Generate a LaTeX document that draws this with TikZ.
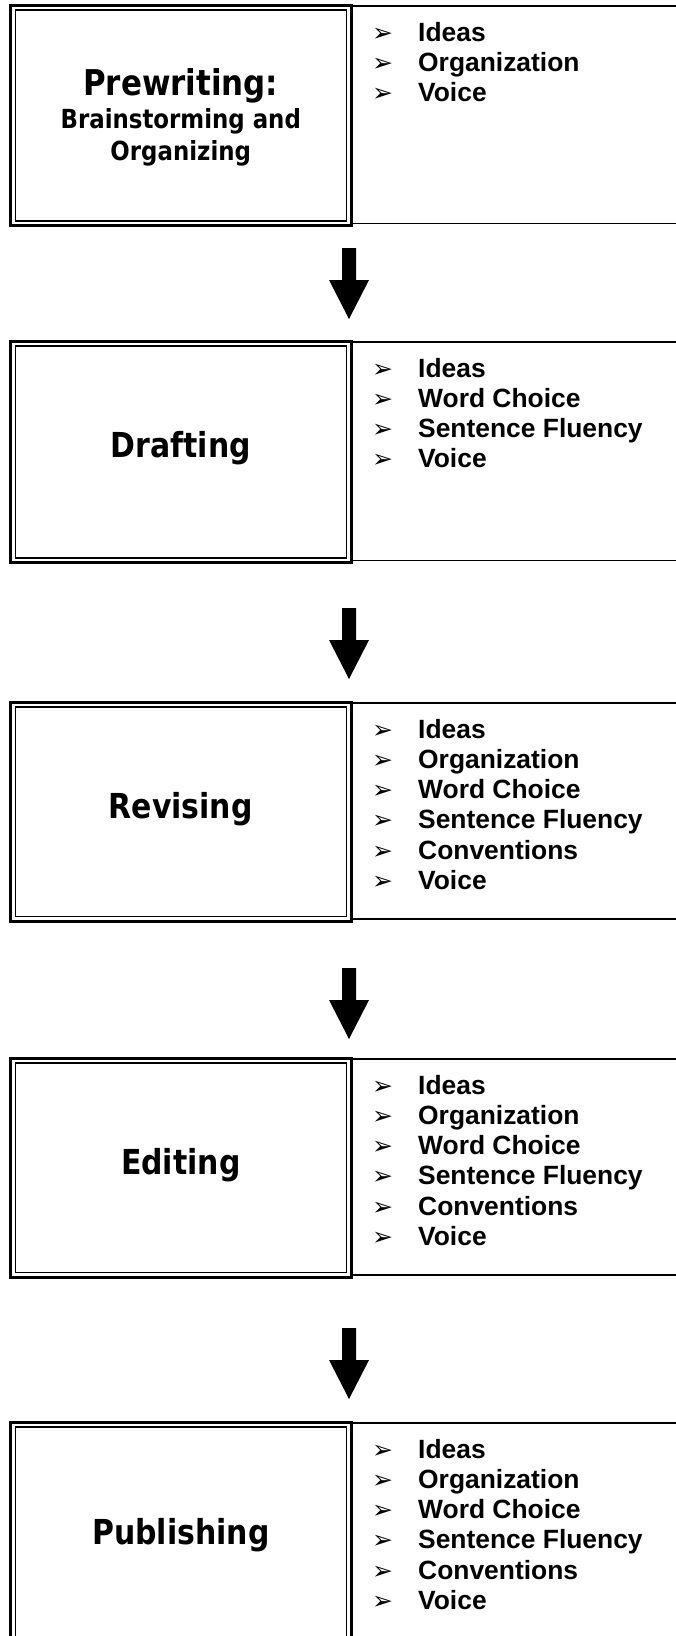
\documentclass[tikz,border=0pt]{standalone}
\usepackage{fontspec}
\setmainfont{Liberation Sans}
\newfontfamily\titlefont[FakeStretch=0.87]{DejaVu Sans}
\newfontfamily\dingfont{DejaVu Sans}
\tikzset{
  outerbox/.style={draw, line width=3pt, inner sep=0pt, outer sep=0pt, minimum width=340.5pt},
  innerbox/.style={draw, line width=1.5pt, inner sep=0pt, outer sep=0pt, minimum width=331pt},
  rline/.style={line width=1.3pt},
  titletext/.style={font=\titlefont\bfseries\fontsize{34.4}{40}\selectfont, inner sep=0pt, anchor=base},
  subtext/.style={font=\titlefont\bfseries\fontsize{26.3}{30}\selectfont, inner sep=0pt, anchor=base},
  itemtext/.style={font=\bfseries\fontsize{26.4}{30}\selectfont, inner sep=0pt, anchor=base west},
  bullettext/.style={font=\dingfont\fontsize{25}{25}\selectfont, inner sep=0pt, anchor=base west},
}
% #1 name, #2 top, #3 bottom, #4 height
\newcommand\wbox[4]{%
  \node[outerbox, minimum height=#4pt] (#1) at (180.75, {(#2+#3)/2}) {};
  \node[innerbox, minimum height={(#4-9.5)*1pt}] (#1in) at (#1.center) {};
  \draw[rline] ([yshift=-1pt]#1.north east) -- ++(330,0);
  \draw[rline] ([yshift=2pt]#1.south east) -- ++(330,0);
}
% #1 name, #2 top y
\newcommand\warrow[2]{%
  \coordinate (#1) at (349,#2);
  \fill (#1) ++(-7,0) -- ++(14,0) -- ++(0,32) -- ++(13,0) -- ++(-20,39) -- ++(-20,-39) -- ++(13,0) -- cycle;
}
% #1 name, #2 first baseline, #3 items
\newcommand\witems[3]{%
  \foreach \t [count=\i] in {#3} {
    \node[bullettext] (#1b\i) at (372, {#2+(\i-1)*30.3}) {➢};
    \node[itemtext] (#1i\i) at (418, {#2+(\i-1)*30.3}) {\t};
  }
}
\begin{document}
\begin{tikzpicture}[x=1pt,y=-1pt]
\useasboundingbox (0,0) rectangle (675,1636);
\fill[white] (0,0) rectangle (675,1636);

% Stage 1
\wbox{s1}{5}{225.5}{220.5}
\node[titletext, font=\titlefont\bfseries\fontsize{35.5}{40}\selectfont] (t1a) at (180.75,95) {Prewriting:};
\node[subtext] (t1b) at (180.75,128) {Brainstorming and};
\node[subtext] (t1c) at (180.75,160) {Organizing};
\witems{l1}{41}{Ideas,Organization,Voice}

\warrow{a1}{248}

% Stage 2
\wbox{s2}{341}{562.5}{221.5}
\node[titletext] (t2) at (180.75,457) {Drafting};
\witems{l2}{377}{Ideas,Word Choice,Sentence Fluency,Voice}

\warrow{a2}{608}

% Stage 3
\wbox{s3}{702}{921}{219}
\node[titletext] (t3) at (180.75,818) {Revising};
\witems{l3}{738}{Ideas,Organization,Word Choice,Sentence Fluency,Conventions,Voice}

\warrow{a3}{968}

% Stage 4
\wbox{s4}{1058}{1277}{219}
\node[titletext] (t4) at (180.75,1174) {Editing};
\witems{l4}{1094}{Ideas,Organization,Word Choice,Sentence Fluency,Conventions,Voice}

\warrow{a4}{1328}

% Stage 5
\wbox{s5}{1422}{1642}{220}
\node[titletext] (t5) at (180.75,1544) {Publishing};
\witems{l5}{1458}{Ideas,Organization,Word Choice,Sentence Fluency,Conventions,Voice}
\end{tikzpicture}
\end{document}
